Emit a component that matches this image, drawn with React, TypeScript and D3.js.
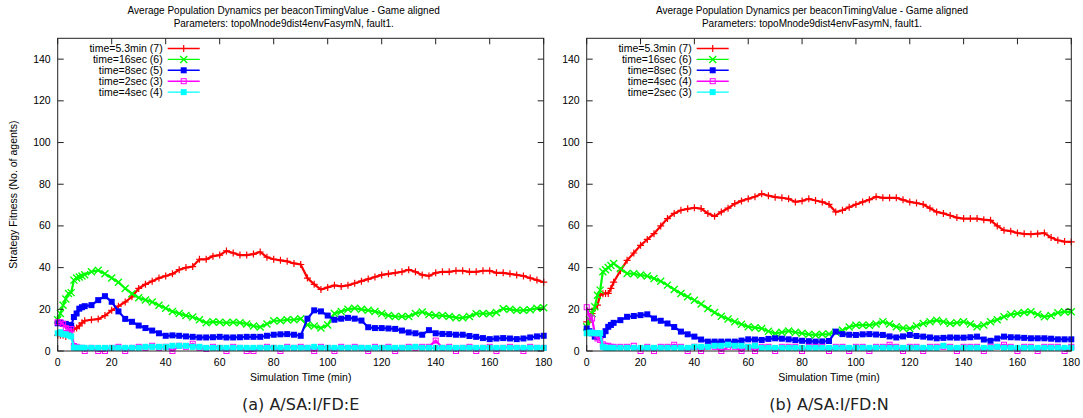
import React from 'react';
import * as d3 from 'd3';

// time axis (minutes) shared by every series
const minutes = [
  0, 1, 2, 3, 4, 5, 6, 7, 8, 9, 10,
  12.5, 15, 17.5, 20, 22.5, 25, 27.5, 30, 32.5, 35,
  37.5, 40, 42.5, 45, 47.5, 50, 52.5, 55, 57.5, 60,
  62.5, 65, 67.5, 70, 72.5, 75, 77.5, 80, 82.5, 85,
  87.5, 90, 92.5, 95, 97.5, 100, 102.5, 105, 107.5, 110,
  112.5, 115, 117.5, 120, 122.5, 125, 127.5, 130, 132.5, 135,
  137.5, 140, 142.5, 145, 147.5, 150, 152.5, 155, 157.5, 160,
  162.5, 165, 167.5, 170, 172.5, 175, 177.5, 180,
];

// (a) A/SA:I/FD:E
const aMin53 = [
  7.5, 7.5, 7.5, 7, 8, 10, 10.5, 11, 12, 13.5, 14.5,
  15, 15.3, 17, 19.5, 21.5, 23.5, 26, 30, 32, 33.5,
  35, 36, 37, 39, 40, 40.5, 44, 44, 45.5, 46,
  48, 47, 46, 46, 46.5, 47.5, 45, 44, 43.5, 43,
  42, 41.5, 35, 32, 29.5, 30.5, 31.5, 31, 31.5, 32.5,
  33.5, 34.5, 35.5, 36.5, 37, 37.5, 38, 39, 38, 36.5,
  36, 37.5, 38, 38, 38.5, 38.5, 38, 38, 38.5, 38.5,
  37.5, 37.5, 37, 36.5, 36, 35, 34, 33,
];
const aSec16 = [
  15, 18, 22, 25, 27.6, 28, 34, 35, 35.5, 36, 36.6,
  38, 38.7, 37, 35, 33, 30, 27.5, 25.5, 24.5, 23.5,
  22, 20.5, 19, 18, 17, 16.3, 15, 13.5, 14, 13.8,
  13.5, 13.8, 13.5, 13, 12, 11.5, 13, 14.5, 14.5, 15,
  15, 15.5, 12.5, 12, 11, 12.5, 18, 19, 20, 20.5,
  20, 19.5, 19, 18, 17, 16.6, 16.5, 16.6, 18, 18.7,
  17.5, 17, 17, 16.6, 16, 15.9, 16.5, 17.9, 18, 17.9,
  18.5, 20.3, 20, 19.5, 19.5, 19.8, 20.5, 20.8,
];
const aSec8 = [
  13.3, 13.5, 13, 13, 12.5, 12.2, 16.3, 18, 20.3, 21, 21.5,
  22, 24.4, 26.3, 23.6, 19, 15.4, 14, 12.2, 11, 9.8,
  8.5, 7.3, 7.5, 7.3, 7, 6.8, 6.5, 6.5, 6.6, 6.8,
  6.5, 6.5, 6.6, 6.8, 6.8, 6.8, 7.3, 7.8, 8, 8.1,
  7.8, 7.3, 15.5, 19.5, 19, 17, 15, 15.5, 15.9, 15.5,
  14.6, 11.4, 11, 11, 10.8, 10.6, 9.8, 8.9, 8.5, 7.8,
  10, 8.5, 8.2, 8.1, 7.8, 7.8, 7.2, 6.8, 6.2, 5.7,
  6, 6.2, 6, 5.7, 6, 6.5, 7, 7.3,
];
const aSec2 = [
  13.8, 13.8, 13, 11, 10.5, 10.5, 2.4, 2, 1.5, 1.5, 0,
  1.5, 0, 0, 1.5, 2, 0, 1.5, 2, 1.5, 2.5,
  1.5, 2, 0, 2.5, 2, 3.5, 1.5, 1, 2, 1.5,
  0, 2, 1.5, 0, 0, 1.5, 2, 1.5, 0, 2,
  1.5, 2, 1.5, 0, 2, 1.5, 0, 2, 1.5, 2,
  1.5, 0, 2, 1.5, 2, 0, 1.5, 2, 1.5, 2,
  2, 5, 1.5, 2, 0, 1.5, 2, 0, 1.5, 2,
  0, 1.5, 2, 1.5, 0, 2, 1.5, 1.5,
];
const aSec4 = [
  8.5, 9, 8, 8, 7.5, 7, 1.6, 1.5, 1.5, 1.5, 1.5,
  1.5, 1.5, 1.5, 1.5, 1.5, 1.5, 1.5, 1.5, 2, 2,
  2, 2, 2.5, 2.5, 2.5, 2, 2, 1.5, 1.5, 1.5,
  1.5, 1.5, 1.5, 1.5, 1.5, 1.5, 1.5, 1.5, 1.5, 1.5,
  1.5, 1.5, 1.5, 2, 1.5, 1.5, 1.5, 1.5, 1.5, 1.5,
  1.5, 1.5, 1.5, 1.5, 1.5, 1.5, 1.5, 1.5, 2, 1.5,
  1.5, 1.5, 1.5, 1.5, 1.5, 1.5, 1.5, 1.5, 1.5, 1.5,
  1.5, 1.5, 1.5, 1.5, 1.5, 1.5, 1.5, 1.5,
];

// (b) A/SA:I/FD:N
const bMin53 = [
  14, 14, 18, 20.4, 22, 26.8, 27.5, 27.6, 27.6, 30, 33,
  38.5, 43.5, 47, 50.7, 53.5, 56.3, 60, 63.5, 66, 67.5,
  68.2, 68.7, 68.3, 66, 64.6, 66.7, 68.5, 70.7, 72, 73,
  74, 75.4, 74.5, 73.8, 73.5, 73, 71.5, 72, 73, 72.2,
  71.5, 70.3, 66.7, 67.5, 69, 70.3, 71.5, 72.6, 74, 73.5,
  73.5, 73.5, 72.5, 71.5, 71, 70.3, 68.5, 66.7, 66, 65,
  64, 63.5, 63.5, 63.5, 63, 62.7, 60, 57.9, 57.5, 56.6,
  56.2, 56, 56.3, 56.6, 54.4, 53.1, 52.5, 52.3,
];
const bSec16 = [
  11.6, 15, 18, 21.2, 26.8, 29.2, 38, 39, 40, 41, 42,
  39.5, 37.2, 37, 36.4, 36, 34.8, 33.5, 31.6, 29.5, 27.6,
  26, 24.4, 22.5, 20.4, 18.5, 16.7, 15.3, 14, 12.8, 11.6,
  11.2, 10.8, 9.5, 8.5, 9, 9.6, 9, 8.5, 8, 7.7,
  8, 8.1, 9, 10, 11.5, 12.4, 12.4, 12.4, 13, 14,
  13, 11.6, 11, 10.8, 12, 13.2, 14, 14.8, 14, 13.2,
  13.5, 14, 13, 11.6, 12.5, 14, 15, 16.4, 17.5, 18,
  18.5, 18.8, 17.5, 16.4, 17, 18.3, 18.8, 18.8,
];
const bSec8 = [
  10.8, 9.5, 8.5, 6.9, 6.9, 6.9, 7.7, 9.5, 11.6, 12.5, 13.5,
  14.8, 16.4, 16.8, 17.2, 17.6, 15.6, 14.5, 13.2, 11.5, 9.3,
  8, 6.9, 5.5, 4.5, 4.5, 4.5, 4.5, 4.5, 5, 5.6,
  5.5, 5.3, 5.8, 6.1, 5.9, 5.6, 5.2, 4.9, 4.7, 4.5,
  4.6, 4.8, 9.3, 8.1, 7.8, 7.7, 8, 8.1, 7.9, 7.7,
  7, 6.5, 7, 7.7, 7.2, 6.9, 6.5, 6.1, 6.3, 6.5,
  6.4, 6.4, 6.6, 6.9, 5.5, 4.9, 6, 6.9, 6.6, 6.5,
  6.3, 6.1, 6.1, 6.1, 5.9, 5.6, 5.6, 5.6,
];
const bSec4 = [
  21, 16.4, 15.6, 8.5, 6, 5.3, 3.2, 2.5, 2.5, 2, 2,
  2, 2, 2.5, 0, 2, 0, 2, 2, 3, 2,
  0, 2, 0, 2, 2, 0, 2, 2, 0, 2,
  0, 2, 2, 0, 2, 2, 2, 0, 2, 2,
  2, 0, 2, 2, 0, 2, 2, 0, 2, 2,
  3, 2, 0, 2, 2, 0, 2, 2, 2, 2,
  0, 2, 2, 2, 0, 2, 2, 3, 2, 0,
  2, 2, 0, 2, 2, 2, 0, 2,
];
const bSec2 = [
  8.5, 8.8, 8.8, 8.5, 8.5, 8.5, 2, 1.5, 1.5, 1.5, 1.5,
  1.5, 1.5, 1.5, 1.5, 1.5, 1.5, 1.5, 1.5, 1.5, 1.5,
  1.5, 2, 2, 2, 2.5, 2.5, 3, 2.5, 2.5, 2,
  2.5, 1.5, 1.5, 1.5, 1.5, 1.5, 1.5, 1.5, 1.5, 1.5,
  1.5, 1.5, 1.5, 1.5, 1.5, 1.5, 1.5, 1.5, 1.5, 1.5,
  1.5, 1.5, 1.5, 1.5, 1.5, 1.5, 1.5, 1.5, 2.5, 1.5,
  1.5, 1.5, 1.5, 1.5, 1.5, 1.5, 2, 1.5, 1.5, 1.5,
  1.5, 1.5, 1.5, 1.5, 1.5, 1.5, 1.5, 1.5,
];

const titleLines = [
  'Average Population Dynamics per beaconTimingValue - Game aligned',
  'Parameters: topoMnode9dist4envFasymN, fault1.',
];

const FONT = '"Liberation Sans", Arial, Helvetica, sans-serif';
const TOP = 38.3;
const BOTTOM = 351;

type Series = { label: string; color: string; marker: string; values: number[] };

function Marker({ kind, color, cx, cy }: { kind: string; color: string; cx: number; cy: number }) {
  const s = 3.5;
  if (kind === 'plus')
    return <path d={`M${cx - s},${cy}H${cx + s}M${cx},${cy - s}V${cy + s}`} stroke={color} strokeWidth={1.2} />;
  if (kind === 'cross')
    return (
      <path
        d={`M${cx - s},${cy - s}L${cx + s},${cy + s}M${cx - s},${cy + s}L${cx + s},${cy - s}`}
        stroke={color}
        strokeWidth={1.4}
      />
    );
  if (kind === 'box')
    return <rect x={cx - 2.5} y={cy - 2.5} width={5} height={5} fill="none" stroke={color} strokeWidth={1} />;
  return <rect x={cx - 3} y={cy - 3} width={6} height={6} fill={color} />;
}

function Panel({ left, right, series, caption, showYLabel }: {
  left: number; right: number; series: Series[]; caption: string; showYLabel: boolean;
}) {
  const x = d3.scaleLinear().domain([0, 180]).range([left, right]);
  const y = d3.scaleLinear().domain([0, 150]).range([BOTTOM, TOP]);
  const line = d3.line<number>().x((_, i) => x(minutes[i])).y((d) => y(d));
  const cx = (left + right) / 2;
  const xt = x.ticks(9);
  const yt = d3.range(0, 141, 20);
  const tk = 6;

  return (
    <g fontFamily={FONT}>
      {/* two title lines, kept apart so their boxes do not touch */}
      <text x={cx - 17} y={14} fontSize={10} textAnchor="middle">{titleLines[0]}</text>
      <text x={cx - 17} y={26.5} fontSize={10} textAnchor="middle">{titleLines[1]}</text>

      {series.map((s) => (
        <g key={s.label}>
          <path d={line(s.values) ?? ''} fill="none" stroke={s.color} strokeWidth={2.2} />
          {s.values.map((v, i) => (
            <Marker key={i} kind={s.marker} color={s.color} cx={x(minutes[i])} cy={y(v)} />
          ))}
        </g>
      ))}

      <rect x={left} y={TOP} width={right - left} height={BOTTOM - TOP} fill="none" stroke="#222" strokeWidth={1} />
      {xt.map((t) => (
        <g key={'x' + t}>
          <line x1={x(t)} x2={x(t)} y1={BOTTOM} y2={BOTTOM - tk} stroke="#222" />
          <line x1={x(t)} x2={x(t)} y1={TOP} y2={TOP + tk} stroke="#222" />
          <text x={x(t)} y={366} fontSize={10.5} textAnchor="middle">{t}</text>
        </g>
      ))}
      {yt.map((t) => (
        <g key={'y' + t}>
          <line x1={left} x2={left + tk} y1={y(t)} y2={y(t)} stroke="#222" />
          <line x1={right} x2={right - tk} y1={y(t)} y2={y(t)} stroke="#222" />
          <text x={left - 7} y={y(t) + 3.5} fontSize={10.5} textAnchor="end">{t}</text>
        </g>
      ))}

      {series.map((s, i) => {
        const ly = 48.5 + i * 10.9;
        return (
          <g key={'lg' + s.label}>
            <text x={left + 105} y={ly + 3.5} fontSize={10.5} textAnchor="end">{s.label}</text>
            <line x1={left + 110} x2={left + 142} y1={ly} y2={ly} stroke={s.color} strokeWidth={1.4} />
            <Marker kind={s.marker} color={s.color} cx={left + 126} cy={ly} />
          </g>
        );
      })}

      <text x={cx} y={381} fontSize={10.5} textAnchor="middle">Simulation Time (min)</text>
      {showYLabel && (
        <text
          transform={`translate(${left - 41},${(TOP + BOTTOM) / 2}) rotate(-90)`}
          fontSize={10.5}
          textAnchor="middle"
        >
          Strategy Fitness (No. of agents)
        </text>
      )}
      <text x={cx} y={410} fontSize={16} fontFamily='"DejaVu Sans", sans-serif' fill="#222" textAnchor="middle">
        {caption}
      </text>
    </g>
  );
}

export default function App() {
  const panelA: Series[] = [
    { label: 'time=5.3min (7)', color: '#ff0000', marker: 'plus', values: aMin53 },
    { label: 'time=16sec (6)', color: '#00ff00', marker: 'cross', values: aSec16 },
    { label: 'time=8sec (5)', color: '#0000ff', marker: 'square', values: aSec8 },
    { label: 'time=2sec (3)', color: '#ff00ff', marker: 'box', values: aSec2 },
    { label: 'time=4sec (4)', color: '#00ffff', marker: 'square', values: aSec4 },
  ];
  const panelB: Series[] = [
    { label: 'time=5.3min (7)', color: '#ff0000', marker: 'plus', values: bMin53 },
    { label: 'time=16sec (6)', color: '#00ff00', marker: 'cross', values: bSec16 },
    { label: 'time=8sec (5)', color: '#0000ff', marker: 'square', values: bSec8 },
    { label: 'time=4sec (4)', color: '#ff00ff', marker: 'box', values: bSec4 },
    { label: 'time=2sec (3)', color: '#00ffff', marker: 'square', values: bSec2 },
  ];

  return (
    <svg
      width={1083}
      height={418}
      style={{ position: 'absolute', left: 0, top: 0, background: '#fff', display: 'block' }}
    >
      <rect width={1083} height={418} fill="#fff" />
      <Panel left={57.7} right={543.7} series={panelA} caption="(a) A/SA:I/FD:E" showYLabel />
      <Panel left={586.7} right={1071.3} series={panelB} caption="(b) A/SA:I/FD:N" showYLabel={false} />
    </svg>
  );
}
